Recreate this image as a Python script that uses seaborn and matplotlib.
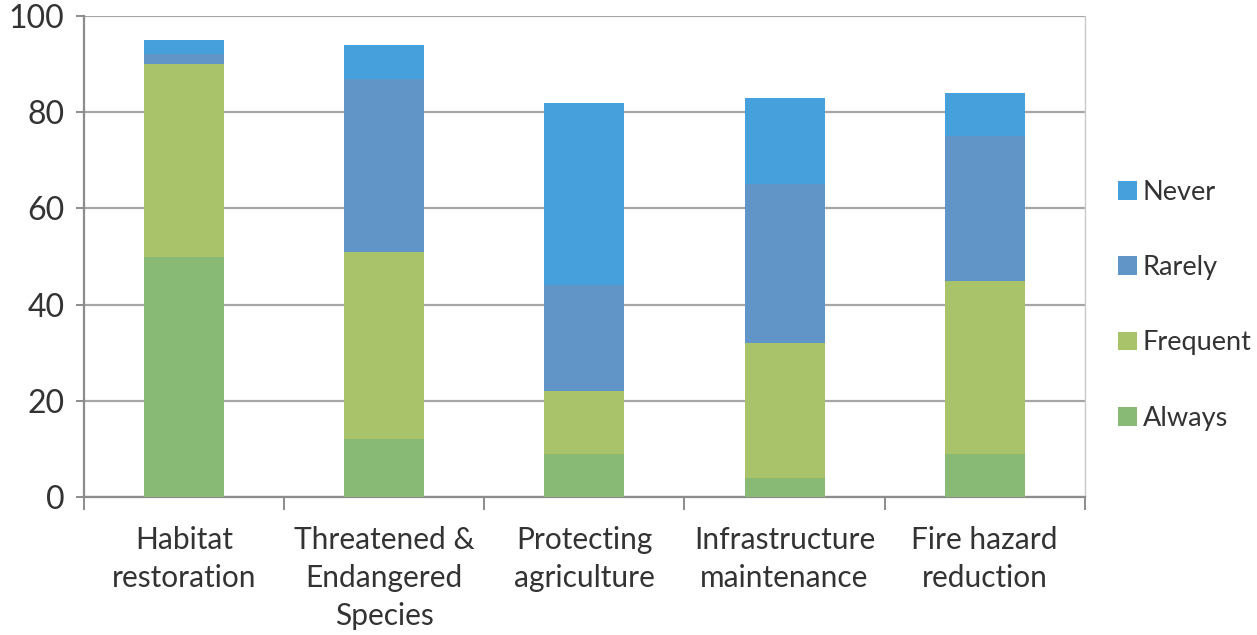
import matplotlib
matplotlib.use("Agg")
import matplotlib.pyplot as plt
import seaborn as sns
import pandas as pd
import numpy as np
from matplotlib.patches import Patch

categories = ["Habitat\nrestoration", "Threatened &\nEndangered\nSpecies",
              "Protecting\nagriculture", "Infrastructure\nmaintenance",
              "Fire hazard\nreduction"]
always = [50, 12, 9, 4, 9]
frequent = [40, 39, 13, 28, 36]
rarely = [2, 36, 22, 33, 30]
never = [3, 7, 38, 18, 9]
series_names = ["Always", "Frequent", "Rarely", "Never"]
colors = {"Always": "#88BA76", "Frequent": "#A9C36B",
          "Rarely": "#6195C8", "Never": "#45A0DB"}

sns.set_theme(style="white")
plt.rcParams['font.family'] = ['Lato', 'DejaVu Sans']

df = pd.DataFrame({"category": categories, "Always": always,
                   "Frequent": frequent, "Rarely": rarely, "Never": never})
cum = df[series_names].cumsum(axis=1)

fig = plt.figure(figsize=(12.57, 6.35), dpi=100)
ax = fig.add_axes([0.0668, 0.2173, 0.7962, 0.7575])

for name in reversed(series_names):
    sns.barplot(x=df["category"], y=cum[name], color=colors[name], ax=ax,
                width=0.4, saturation=1, edgecolor="none", zorder=3,
                order=categories)

ax.set_ylim(0, 100)
ax.set_xlim(-0.5, len(categories) - 0.5)
ax.set_yticks([0, 20, 40, 60, 80, 100])
ax.yaxis.grid(True, color="#A6A6A6", linewidth=1.6, zorder=0)
ax.set_axisbelow(True)
ax.set_xlabel("")
ax.set_ylabel("")

ax.spines["top"].set_visible(False)
for s in ["left", "bottom", "right"]:
    ax.spines[s].set_color("#8C8C8C")
    ax.spines[s].set_linewidth(1.6)
ax.spines["right"].set_color("#C8C8C8")
ax.spines["right"].set_linewidth(1.0)

ax.tick_params(axis="y", which="major", length=6, width=1.4, color="#8C8C8C",
               labelsize=23, labelcolor="#333333", pad=8, left=True)
ax.set_xticks(np.arange(len(categories)))
ax.set_xticklabels(categories, fontsize=21.5, color="#333333", linespacing=1.42)
ax.tick_params(axis="x", which="major", length=0, pad=21)
ax.set_xticks(np.arange(-0.5, len(categories)), minor=True)
ax.tick_params(axis="x", which="minor", length=9, width=1.4, color="#8C8C8C",
               bottom=True)

handles = [Patch(facecolor=colors[n], edgecolor="none", label=n)
           for n in reversed(series_names)]
fig.legend(handles=handles, loc="center left", bbox_to_anchor=(0.879, 0.519),
           frameon=False, fontsize=19.5, labelcolor="#333333", borderpad=0,
           handlelength=0.7, handleheight=0.7, handletextpad=0.2,
           labelspacing=1.85)

fig.savefig("out.png", dpi=100)
